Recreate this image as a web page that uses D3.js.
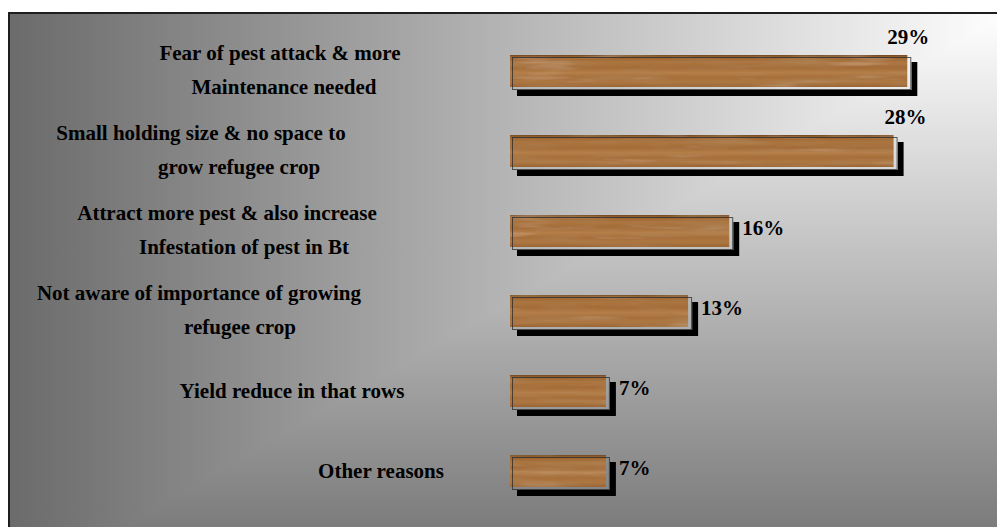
<!DOCTYPE html>
<html>
<head>
<meta charset="utf-8">
<script src="https://cdn.jsdelivr.net/npm/d3@7"></script>
<style>
  body { margin: 0; background: #fff; }
  text { font-family: "Liberation Serif", "Times New Roman", serif; font-weight: bold; }
</style>
</head>
<body>
<div id="chart"></div>
<script>
// data
var categories = [
  ["Fear of pest attack & more", "Maintenance needed"],
  ["Small holding size & no space to", "grow refugee crop"],
  ["Attract more pest & also increase", "Infestation of pest in Bt"],
  ["Not aware of importance of growing", "refugee crop"],
  ["Yield reduce in that rows"],
  ["Other reasons"]
];
var values = [29, 28, 16, 13, 7, 7];
var valueLabels = ["29%", "28%", "16%", "13%", "7%", "7%"];

// layout tweaks (label centres per line, value label placement)
var labelCx = [[280, 284], [201, 239], [227, 244], [199, 240], [292], [381]];
var valueOnTop = [true, true, false, false, false, false];
var valueTopDx = [1, 12, 0, 0, 0, 0];

var total_width = 997, total_height = 527;

var svg = d3.select("#chart").append("svg")
    .attr("width", total_width)
    .attr("height", total_height);

var defs = svg.append("defs");

// background: "from corner" gradient = darken(horizontal, vertical)
var hGrad = defs.append("linearGradient")
    .attr("id", "bgH")
    .attr("gradientUnits", "userSpaceOnUse")
    .attr("x1", 8).attr("y1", 0).attr("x2", 997).attr("y2", 0);
hGrad.append("stop").attr("offset", 0).attr("stop-color", "#6b6b6b");
hGrad.append("stop").attr("offset", 1).attr("stop-color", "#fdfdfd");

var vGrad = defs.append("linearGradient")
    .attr("id", "bgV")
    .attr("gradientUnits", "userSpaceOnUse")
    .attr("x1", 0).attr("y1", 12).attr("x2", 0).attr("y2", 527);
vGrad.append("stop").attr("offset", 0).attr("stop-color", "#ffffff");
vGrad.append("stop").attr("offset", 1).attr("stop-color", "#7c7c7c");

// wood colours
var wood = defs.append("linearGradient")
    .attr("id", "wood")
    .attr("x1", 0).attr("y1", 0).attr("x2", 0).attr("y2", 1);
[[0, "#6e4522"], [0.06, "#98622f"], [0.22, "#ab7540"], [0.4, "#a36c38"],
 [0.55, "#b47e49"], [0.7, "#a66f3a"], [0.85, "#ad7743"], [1, "#9a6533"]]
  .forEach(function (s) {
    wood.append("stop").attr("offset", s[0]).attr("stop-color", s[1]);
  });

var grain = defs.append("filter")
    .attr("id", "grain")
    .attr("x", 0).attr("y", 0).attr("width", 1).attr("height", 1);
grain.append("feTurbulence")
    .attr("type", "fractalNoise")
    .attr("baseFrequency", "0.012 0.13")
    .attr("numOctaves", 3)
    .attr("seed", 7)
    .attr("result", "n");
grain.append("feColorMatrix")
    .attr("in", "n")
    .attr("type", "matrix")
    .attr("values", "0 0 0 0 0.45  0 0 0 0 0.27  0 0 0 0 0.12  1.1 0 0 0 -0.5")
    .attr("result", "dark");
grain.append("feComposite")
    .attr("in", "dark").attr("in2", "SourceGraphic")
    .attr("operator", "atop")
    .attr("result", "d1");
grain.append("feColorMatrix")
    .attr("in", "n")
    .attr("type", "matrix")
    .attr("values", "0 0 0 0 0.8  0 0 0 0 0.56  0 0 0 0 0.36  0 -0.9 0 0 0.35")
    .attr("result", "light");
grain.append("feComposite")
    .attr("in", "light").attr("in2", "d1")
    .attr("operator", "atop");

function drawBg(sel, x, y, w, h) {
  var g = sel.append("g").style("isolation", "isolate");
  g.append("rect").attr("x", x).attr("y", y).attr("width", w).attr("height", h)
      .attr("fill", "url(#bgH)");
  g.append("rect").attr("x", x).attr("y", y).attr("width", w).attr("height", h)
      .attr("fill", "url(#bgV)")
      .style("mix-blend-mode", "darken");
  return g;
}

// frame
drawBg(svg, 9, 13, 1000, 530);
svg.append("rect")
    .attr("x", 9).attr("y", 13)
    .attr("width", 1000).attr("height", 530)
    .attr("fill", "none")
    .attr("stroke", "#1e1e1e")
    .attr("stroke-width", 2);

// scales
var x = d3.scaleLinear()
    .domain([0, 30])
    .range([510, 921]);

var y = d3.scaleBand()
    .domain(d3.range(values.length))
    .range([31, 511])
    .paddingInner(0.6)
    .paddingOuter(0.3);

var bh = y.bandwidth();

// bars: shadow, light frame, wood, frame line
var bars = svg.append("g")
  .selectAll("g")
  .data(values)
  .enter()
  .append("g");

bars.append("rect")
    .attr("x", x(0) + 7)
    .attr("y", function (d, i) { return y(i) + 7; })
    .attr("width", function (d) { return x(d) - x(0) + 3; })
    .attr("height", bh + 2)
    .attr("fill", "#000");

bars.each(function (d, i) {
  drawBg(d3.select(this), x(0) + 2, y(i) + 2, x(d) - x(0) + 2, bh + 1);
});

bars.append("rect")
    .attr("x", x(0))
    .attr("y", function (d, i) { return y(i); })
    .attr("width", function (d) { return x(d) - x(0); })
    .attr("height", bh)
    .attr("fill", "url(#wood)")
    .attr("filter", "url(#grain)");

bars.append("rect")
    .attr("x", x(0) + 2.5)
    .attr("y", function (d, i) { return y(i) + 2.5; })
    .attr("width", function (d) { return x(d) - x(0) + 1; })
    .attr("height", bh)
    .attr("fill", "none")
    .attr("stroke", "#2a2a2a")
    .attr("stroke-opacity", 0.75)
    .attr("stroke-width", 1);

// value labels
svg.append("g")
  .selectAll("text")
  .data(values)
  .enter()
  .append("text")
    .attr("x", function (d, i) { return valueOnTop[i] ? x(d) + valueTopDx[i] : x(d) + 13; })
    .attr("y", function (d, i) { return valueOnTop[i] ? y(i) - 11 : y(i) + 20; })
    .attr("text-anchor", function (d, i) { return valueOnTop[i] ? "middle" : "start"; })
    .attr("font-size", 21)
    .attr("fill", "#000")
    .text(function (d, i) { return valueLabels[i]; });

// category labels
var cats = svg.append("g")
  .selectAll("g")
  .data(categories)
  .enter()
  .append("g");

cats.each(function (lines, i) {
  var mid = y(i) + bh / 2;
  var base = lines.length > 1 ? [mid - 11, mid + 23] : [mid + 7];
  d3.select(this).selectAll("text")
    .data(lines)
    .enter()
    .append("text")
      .attr("x", function (t, j) { return labelCx[i][j]; })
      .attr("y", function (t, j) { return base[j]; })
      .attr("text-anchor", "middle")
      .attr("font-size", 21)
      .attr("fill", "#000")
      .text(function (t) { return t; });
});
</script>
</body>
</html>
